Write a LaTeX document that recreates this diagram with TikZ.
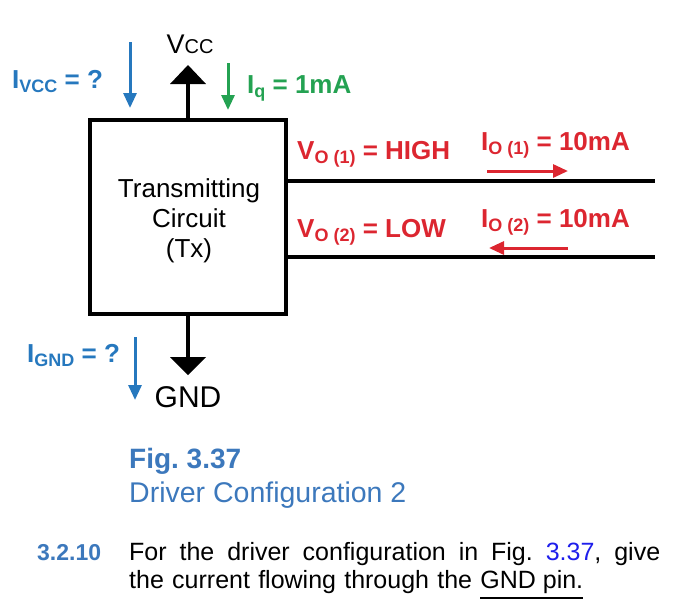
\documentclass[tikz,border=0pt]{standalone}
\usepackage{fontspec}
\setmainfont{Liberation Sans}
\usetikzlibrary{arrows.meta}
\frenchspacing
\definecolor{curblue}{RGB}{38,120,190}
\definecolor{curgreen}{RGB}{36,162,82}
\definecolor{curred}{RGB}{220,38,48}
\definecolor{capblue}{RGB}{60,120,188}
\definecolor{refblue}{RGB}{30,30,235}
\newcommand{\lsub}[1]{\raisebox{-4pt}{\fontsize{18}{18}\selectfont #1}}
\newcommand{\ulpin}[1]{\setbox0\hbox{#1}\rlap{\rule[-11pt]{\wd0}{2pt}}\box0}
\begin{document}
\begin{tikzpicture}[x=1pt,y=-1pt,
  wire/.style={line width=3.2pt},
  cur/.style={line width=3pt,-{Triangle[length=15pt,width=13pt]}},
  lbl/.style={anchor=base west,inner sep=0pt,font=\fontsize{26}{26}\selectfont\bfseries},
  txt/.style={inner sep=0pt,font=\fontsize{#1}{#1}\selectfont}]
\useasboundingbox (0,0) rectangle (690,606);
% transmitter block
\node[draw,line width=3.2pt,minimum width=196pt,minimum height=194pt,inner sep=0pt] (tx) at (188,217) {};
\node[txt=26,anchor=north,align=center,font=\fontsize{26}{30}\selectfont] (txname) at (189,178) {Transmitting\\Circuit\\(Tx)};
% supply and ground pins
\coordinate (vcctip) at (188,65);
\coordinate (vccbase) at (188,84);
\coordinate (gndbase) at (188,357);
\draw[wire] (tx.north) -- (vccbase);
\fill (vcctip) -- ++(18,19) -- ++(-36,0) -- cycle;
\draw[wire] (tx.south) -- (gndbase);
\fill (gndbase) -- ++(18,0) -- ++(-18,18) -- ++(-18,-18) -- cycle;
\node[txt=27,anchor=base] (vcc) at (190,53) {V{\fontsize{20}{20}\selectfont CC}};
\node[txt=30,anchor=base] (gnd) at (188,407) {GND};
% outputs
\coordinate (out1) at (655,181);
\coordinate (out2) at (655,257);
\draw[wire] (out1 -| tx.east) -- (out1);
\draw[wire] (out2 -| tx.east) -- (out2);
% currents
\coordinate (ivcca) at (130,42);  \coordinate (ivccb) at (130,108);
\coordinate (iqa) at (228,63);    \coordinate (iqb) at (228,110);
\coordinate (io1a) at (487,171);  \coordinate (io1b) at (568,171);
\coordinate (io2a) at (568,248);  \coordinate (io2b) at (489,248);
\coordinate (ignda) at (135,337); \coordinate (igndb) at (135,400);
\draw[cur,curblue] (ivcca) -- (ivccb);
\draw[cur,curgreen] (iqa) -- (iqb);
\draw[cur,curred] (io1a) -- (io1b);
\draw[cur,curred] (io2a) -- (io2b);
\draw[cur,curblue] (ignda) -- (igndb);
\node[lbl,curblue] (ivcclbl) at (12,88) {I\lsub{VCC} = ?};
\node[lbl,curgreen] (iqlbl) at (247,93) {I\lsub{q} = 1mA};
\node[lbl,curred] (vo1lbl) at (297,159) {V\lsub{O (1)} = HIGH};
\node[lbl,curred] (io1lbl) at (481,150) {I\lsub{O (1)} = 10mA};
\node[lbl,curred] (vo2lbl) at (297,237) {V\lsub{O (2)} = LOW};
\node[lbl,curred] (io2lbl) at (481,227) {I\lsub{O (2)} = 10mA};
\node[lbl,curblue] (igndlbl) at (27,362) {I\lsub{GND} = ?};
% caption and question
\node[txt=28,anchor=base west,capblue,font=\fontsize{28}{28}\selectfont\bfseries] (fignum) at (129,468) {Fig. 3.37};
\node[txt=28.5,anchor=base west,capblue] (figtitle) at (129,502) {Driver Configuration 2};
\node[txt=23,anchor=base west,capblue,font=\fontsize{23}{23}\selectfont\bfseries] (qnum) at (37,560) {3.2.10};
\node[txt=25,anchor=base west] (qline1) at (129,560) {\makebox[531pt][s]{For the driver configuration in Fig. \textcolor{refblue}{3.37}, give}};
\node[txt=25,anchor=base west] (qline2) at (129,588) {\makebox[454pt][s]{the current flowing through the \ulpin{GND pin.}}};
\end{tikzpicture}
\end{document}
